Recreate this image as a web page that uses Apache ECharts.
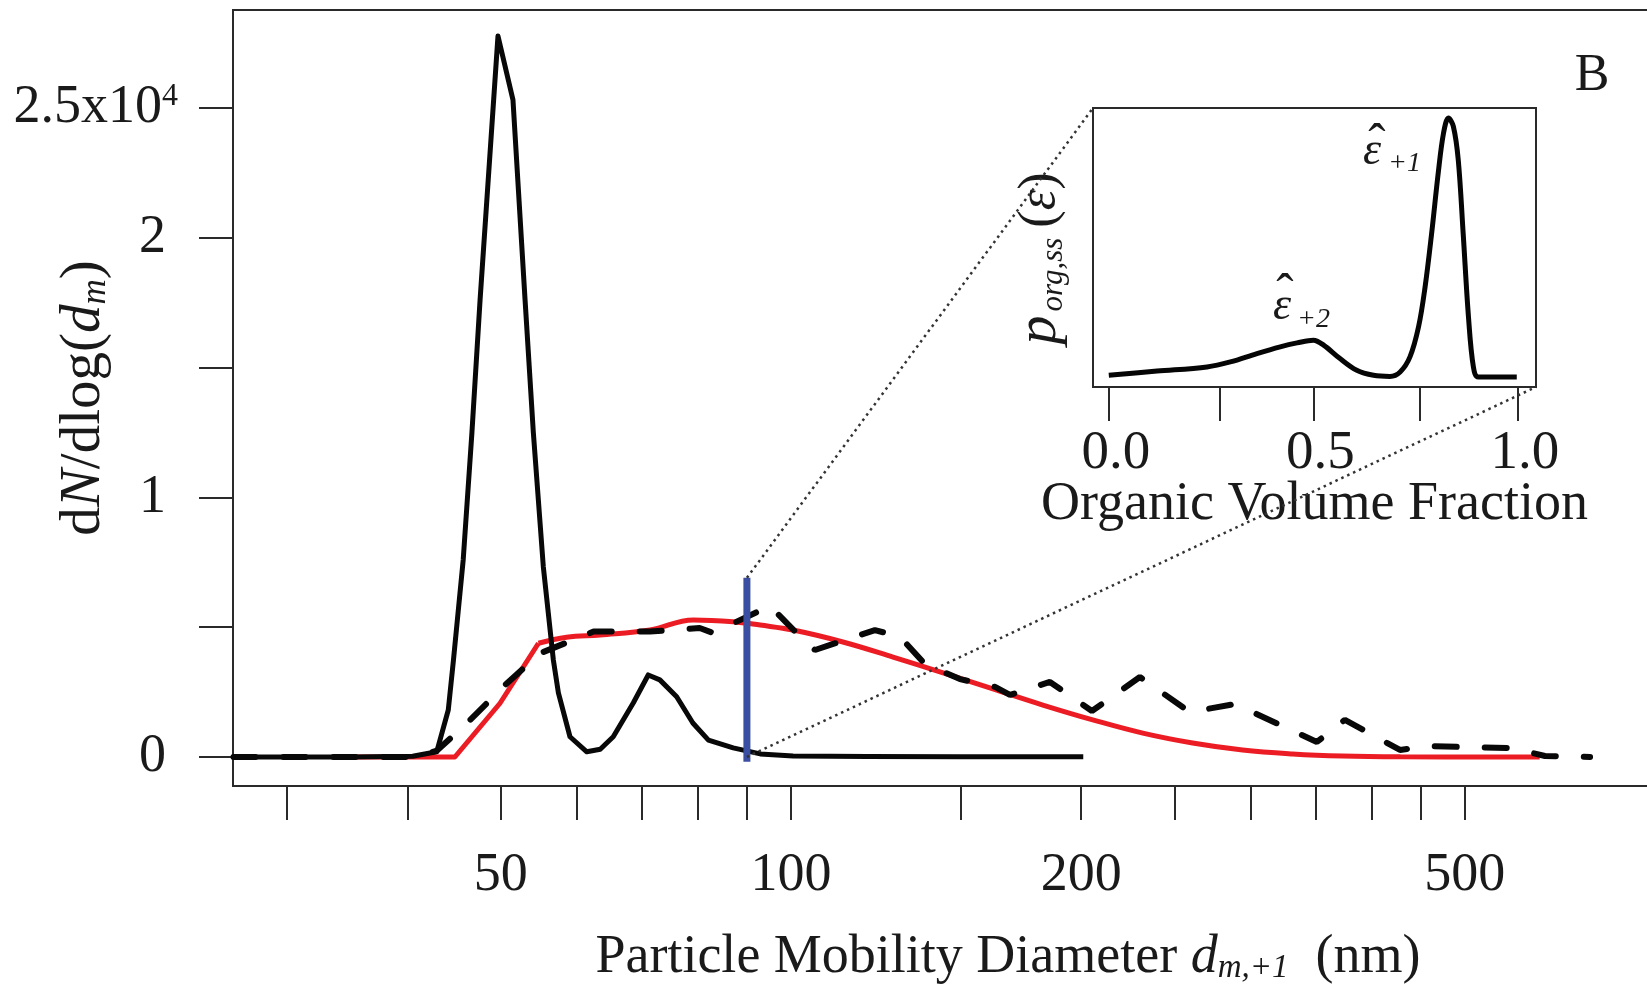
<!DOCTYPE html>
<html><head><meta charset="utf-8">
<script src="https://cdn.jsdelivr.net/npm/echarts@6/dist/echarts.min.js"></script>
<style>html,body{margin:0;padding:0;background:#fff}#c{width:1647px;height:988px}</style>
</head><body><div id="c"></div>
<script>
// ---------------- data (dN/dlog dm in units of 1e4, diameters in nm) ----------------
const measuredDiam = [26.4, 35, 40.5, 42.9, 44.1, 44.65, 45.7, 46.66, 47.58, 49.66, 51.47, 52.98, 54.04, 55.34, 56.68, 57.37, 58.98, 61.4, 63.4, 65.4, 68.6, 71.1, 73.1, 76.1, 79.1, 82.1, 87.1, 92.9, 100.5, 120, 150, 201];
const measuredVal  = [0, 0, 0.003, 0.02, 0.181, 0.374, 0.759, 1.248, 1.760, 2.777, 2.531, 1.760, 1.248, 0.733, 0.374, 0.247, 0.078, 0.02, 0.030, 0.078, 0.208, 0.316, 0.297, 0.232, 0.131, 0.065, 0.035, 0.012, 0.004, 0.002, 0.001, 0.001];

const fitDiam = [34.9, 44.8, 49.9, 54.7, 58.5, 63.4, 71.4, 79.2, 87.1, 92.9, 100.5, 113.2, 127.6, 143.8, 162.0, 182.5, 205.6, 231.7, 261.0, 294.1, 331.4, 373.4, 428.8, 598];
const fitVal  = [0, 0, 0.207, 0.438, 0.461, 0.470, 0.489, 0.528, 0.521, 0.508, 0.489, 0.443, 0.385, 0.324, 0.262, 0.200, 0.143, 0.092, 0.054, 0.027, 0.012, 0.004, 0.001, 0];
const fitRiseEnd = 3; // index where the linear rise ends and the smooth decay begins

const dashedDiam = [26.4, 40.55, 42.9, 46.1, 50.3, 54.9, 62.4, 71.4, 80.4, 83.0, 95.1, 102.2, 105.9, 122.2, 129.8, 137.7, 149.7, 162.8, 168.7, 185.6, 205.2, 230.1, 259.3, 288.8, 351.2, 375.5, 428.3, 456.8, 518.5, 559.7, 605.6, 674.5];
const dashedVal  = [0, 0, 0.024, 0.130, 0.271, 0.399, 0.483, 0.483, 0.497, 0.478, 0.582, 0.463, 0.412, 0.489, 0.462, 0.358, 0.300, 0.270, 0.239, 0.289, 0.177, 0.308, 0.173, 0.204, 0.058, 0.143, 0.027, 0.042, 0.037, 0.034, 0.004, 0];

const selectedDiam = [90, 90];
const selectedVal  = [-0.018, 0.69];

const insetFrac = [0.000, 0.118, 0.240, 0.297, 0.362, 0.419, 0.460, 0.500, 0.525, 0.565, 0.606, 0.647, 0.687, 0.712, 0.736, 0.757, 0.773, 0.789, 0.805, 0.818, 0.830, 0.842, 0.854, 0.866, 0.879, 0.891, 0.903, 0.997];
const insetDens = [0.42, 0.57, 0.72, 0.90, 1.20, 1.44, 1.58, 1.68, 1.50, 1.02, 0.60, 0.42, 0.38, 0.54, 1.08, 2.16, 3.59, 5.51, 7.66, 9.10, 9.64, 9.34, 8.14, 5.51, 2.51, 0.72, 0.36, 0.36];

const xTickValues = [30, 40, 50, 60, 70, 80, 90, 100, 150, 200, 250, 300, 350, 400, 450, 500];
const xLabelValues = [50, 100, 200, 500];
const yTickValues = [0, 0.5, 1, 1.5, 2, 2.5];
const yLabelValues = [0, 1, 2, 2.5];
const insetTickValues = [0, 0.27, 0.5, 0.76, 1.0];
const insetLabelValues = [0, 0.5, 1.0];

// ---------------- chart ----------------
const FF = 'Liberation Serif';
const TC = '#1a1a1a';
const LC = '#2a2a2a';
const zip = (a, b) => a.map((v, i) => [v, b[i]]);

const chart = echarts.init(document.getElementById('c'), null, {renderer: 'canvas'});

const X0MIN = 26.37, X0MAX = 782, Y0MIN = -0.1117, Y0MAX = 2.877;
const X1MIN = -0.0386, X1MAX = 1.044, Y1MIN = 0, Y1MAX = 10;

const nameRich = (size, sub) => ({
  n: {fontFamily: FF, fontSize: size, color: TC},
  i: {fontFamily: FF, fontSize: size, fontStyle: 'italic', color: TC},
  sub: {fontFamily: FF, fontSize: sub, fontStyle: 'italic', color: TC, verticalAlign: 'bottom'}
});

const fitPts = zip(fitDiam, fitVal);
const RED = '#ec1c24';

const option = {
  animation: false,
  backgroundColor: '#fff',
  grid: [
    {left: 233, top: 10, right: -5, bottom: 202, show: true, borderColor: LC, borderWidth: 2, backgroundColor: 'transparent',
     containLabel: false, outerBoundsMode: 'none'},
    {left: 1093, top: 108, right: 111, bottom: 601, show: true, borderColor: LC, borderWidth: 2, backgroundColor: '#fff',
     containLabel: false, outerBoundsMode: 'none'}
  ],
  xAxis: [
    {
      type: 'log', gridIndex: 0, min: X0MIN, max: X0MAX,
      axisLine: {show: true, onZero: false, lineStyle: {color: LC, width: 2}},
      axisTick: {show: true, inside: false, length: 34, lineStyle: {color: LC, width: 2}, customValues: xTickValues},
      minorTick: {show: false},
      splitLine: {show: false},
      axisLabel: {show: true, margin: 63, fontSize: 54, fontFamily: FF, color: TC, customValues: xLabelValues,
                  formatter: v => String(Math.round(v))},
      name: '{n|Particle Mobility Diameter }{i|d}{sub|m,+1}{n|  (nm)}',
      nameLocation: 'middle', nameGap: 145, nameMoveOverlap: false,
      nameTextStyle: {fontFamily: FF, fontSize: 54, color: TC, padding: [0, 0, 0, 131], rich: nameRich(54, 33)}
    },
    {
      type: 'value', gridIndex: 1, min: X1MIN, max: X1MAX,
      axisLine: {show: false, onZero: false},
      axisTick: {show: true, inside: false, length: 34, lineStyle: {color: LC, width: 2}, customValues: insetTickValues},
      splitLine: {show: false},
      axisLabel: {show: true, margin: 39, fontSize: 55, fontFamily: FF, color: TC, customValues: insetLabelValues,
                  padding: [0, 0, 0, 14], formatter: v => v.toFixed(1)},
      name: 'Organic Volume Fraction', nameLocation: 'middle', nameGap: 91, nameMoveOverlap: false,
      nameTextStyle: {fontFamily: FF, fontSize: 54, color: TC}
    }
  ],
  yAxis: [
    {
      type: 'value', gridIndex: 0, min: Y0MIN, max: Y0MAX,
      axisLine: {show: true, onZero: false, lineStyle: {color: LC, width: 2}},
      axisTick: {show: true, inside: false, length: 34, lineStyle: {color: LC, width: 2}, customValues: yTickValues},
      splitLine: {show: false},
      axisLabel: {show: true, margin: 55, fontSize: 54, fontFamily: FF, color: TC, customValues: yLabelValues,
        formatter: v => (Math.abs(v - 2.5) < 1e-9 ? '{a|2.5x10}{s|4}' : '{n|' + String(Math.round(v)) + '}'),
        rich: {
          n: {fontFamily: FF, fontSize: 54, color: TC, padding: [0, 12, 0, 0]},
          a: {fontFamily: FF, fontSize: 54, color: TC},
          s: {fontFamily: FF, fontSize: 32, color: TC, verticalAlign: 'top'}
        }},
      name: '{n|d}{i|N}{n|/dlog(}{i|d}{sub|m}{n|)}',
      nameLocation: 'middle', nameGap: 120, nameMoveOverlap: false,
      nameTextStyle: {fontFamily: FF, fontSize: 57, color: TC, rich: nameRich(57, 35)}
    },
    {
      type: 'value', gridIndex: 1, min: Y1MIN, max: Y1MAX,
      axisLine: {show: false, onZero: false}, axisTick: {show: false}, axisLabel: {show: false}, splitLine: {show: false},
      name: '{p|p}{sub|org,ss}{n|(}{i|ε}{n|)}',
      nameLocation: 'middle', nameGap: 24, nameMoveOverlap: false,
      nameTextStyle: {fontFamily: FF, fontSize: 50, color: TC, padding: [0, 22, 0, 0],
        rich: {
          p: {fontFamily: FF, fontSize: 58, fontStyle: 'italic', color: TC},
          n: {fontFamily: FF, fontSize: 52, color: TC},
          i: {fontFamily: FF, fontSize: 52, fontStyle: 'italic', color: TC},
          sub: {fontFamily: FF, fontSize: 31, fontStyle: 'italic', color: TC, verticalAlign: 'bottom', padding: [0, 10, 0, 4]}
        }}
    }
  ],
  series: [
    {name: 'fit rise', type: 'line', xAxisIndex: 0, yAxisIndex: 0, data: fitPts.slice(0, fitRiseEnd + 1), showSymbol: false, z: 2,
     lineStyle: {color: RED, width: 5, join: 'round'}},
    {name: 'fit', type: 'line', xAxisIndex: 0, yAxisIndex: 0, data: fitPts.slice(fitRiseEnd), showSymbol: false, z: 2,
     smooth: 0.4, lineStyle: {color: RED, width: 5}},
    {name: 'measured', type: 'line', xAxisIndex: 0, yAxisIndex: 0, data: zip(measuredDiam, measuredVal), showSymbol: false, z: 3,
     lineStyle: {color: '#080808', width: 5, join: 'round'}},
    {name: 'total', type: 'line', xAxisIndex: 0, yAxisIndex: 0, data: zip(dashedDiam, dashedVal), showSymbol: false, z: 4,
     lineStyle: {color: '#080808', width: 6, type: [22, 28], cap: 'round'}},
    {name: 'selected', type: 'line', xAxisIndex: 0, yAxisIndex: 0, data: zip(selectedDiam, selectedVal), showSymbol: false, z: 5,
     lineStyle: {color: '#3a4ea2', width: 7}},
    {name: 'pdf', type: 'line', xAxisIndex: 1, yAxisIndex: 1, data: zip(insetFrac, insetDens), showSymbol: false, z: 6,
     smooth: 0.35, lineStyle: {color: '#050505', width: 5}}
  ]
};
chart.setOption(option);

// connector lines from the selected diameter to the inset corners, plus annotations
const pTop = chart.convertToPixel({xAxisIndex: 0, yAxisIndex: 0}, [selectedDiam[1], selectedVal[1]]);
const pBot = chart.convertToPixel({xAxisIndex: 0, yAxisIndex: 0}, [selectedDiam[0], 0]);
const cTL = chart.convertToPixel({xAxisIndex: 1, yAxisIndex: 1}, [X1MIN, Y1MAX]);
const cBR = chart.convertToPixel({xAxisIndex: 1, yAxisIndex: 1}, [X1MAX, Y1MIN]);
const dotted = {stroke: '#333', lineWidth: 2.5, lineDash: [2.5, 4]};
const txt = (id, x, y, text, size, italic, align) => ({
  id, type: 'text', x, y, z: 100,
  style: {text, fontFamily: FF, fontSize: size, fontStyle: italic ? 'italic' : 'normal', fill: TC,
          align: align || 'left', verticalAlign: 'middle'}
});
chart.setOption({
  graphic: [
    {id: 'l1', type: 'line', z: 50, shape: {x1: pTop[0], y1: pTop[1], x2: cTL[0], y2: cTL[1]}, style: dotted},
    {id: 'l2', type: 'line', z: 50, shape: {x1: pBot[0], y1: pBot[1], x2: cBR[0], y2: cBR[1]}, style: dotted},
    txt('B', 1592, 76, 'B', 52, false, 'center'),
    txt('e1', 1363, 152, 'ε', 46, true),
    txt('s1', 1388, 164, '+1', 28, true),
    txt('h1', 1377, 146, 'ˆ', 52, false, 'center'),
    txt('e2', 1273, 307, 'ε', 46, true),
    txt('s2', 1297, 320, '+2', 28, true),
    txt('h2', 1285, 296, 'ˆ', 52, false, 'center')
  ]
});
</script>
</body></html>
